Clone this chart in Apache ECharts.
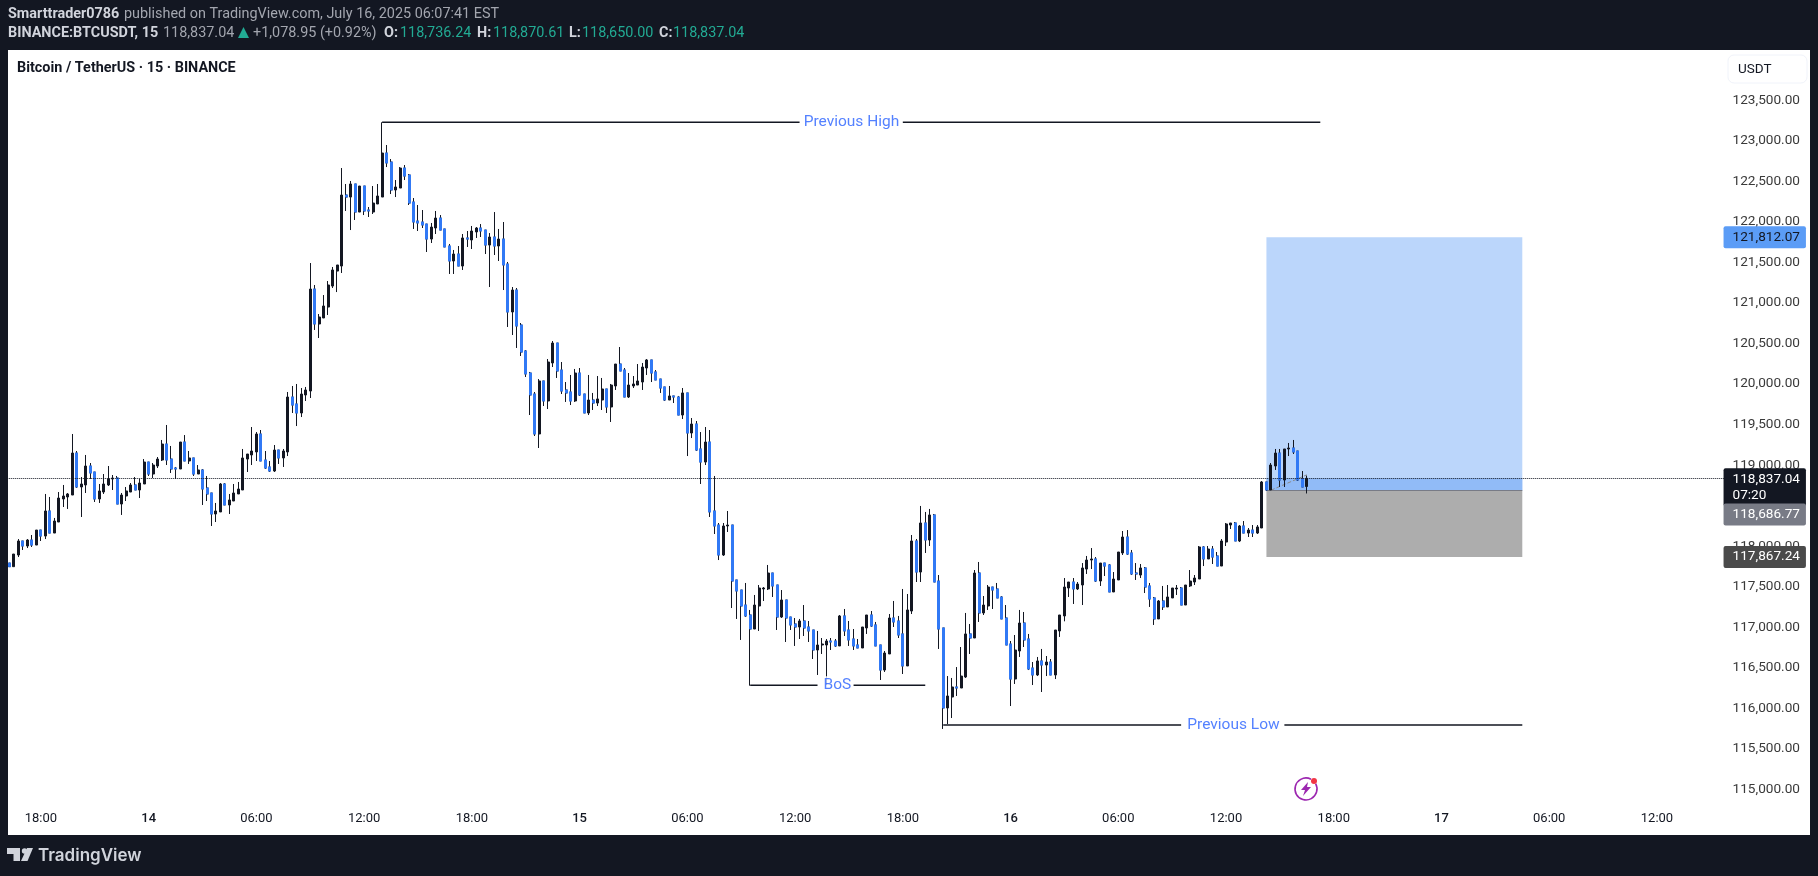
<!DOCTYPE html>
<html>
<head>
<meta charset="utf-8">
<title>BTCUSDT 15</title>
<script src="https://cdn.jsdelivr.net/npm/echarts@6/dist/echarts.min.js"></script>
<style>
  html, body { margin: 0; padding: 0; background: #131722; overflow: hidden; }
  #main-chart { width: 1818px; height: 876px; }
</style>
</head>
<body>
<div id="main-chart"></div>
<script>
// candles, 15 min bars
const candleOpen = [
  117792,117747,117891,118064,118002,118076,118014,118199,118125,118434,
  118162,118298,118582,118607,118631,119149,118730,118755,118989,118915,
  118582,118668,118755,118829,118841,118520,118619,118668,118755,118693,
  118767,119038,118890,118989,119063,119260,119075,118964,118952,119285,
  119051,119088,118890,118940,118718,118656,118397,118422,118767,118508,
  118557,118644,118693,119075,119125,119162,119384,119063,118977,118927,
  119186,119088,119162,119840,119754,119643,119865,119914,121172,120741,
  120815,120950,121209,121394,121456,122332,122307,122468,122122,122443,
  122147,122122,122221,122307,122850,122739,122394,122418,122665,122579,
  122246,122011,121999,121974,121789,121925,122048,121913,121703,121518,
  121604,121456,121802,121777,121876,121925,121900,121715,121814,121703,
  121789,121481,120889,121160,120728,120408,120136,119877,119384,120038,
  119791,120260,120506,120173,119927,119902,119791,120136,119877,119643,
  119803,119766,119803,119939,119717,119976,120247,120173,119840,119976,
  119988,120025,120198,120297,120149,120062,119964,119803,119853,119840,
  119618,119890,119396,119507,119199,119038,119285,118434,118261,117891,
  118249,118261,117583,117459,117274,117151,116978,117262,117472,117472,
  117669,117521,117126,117336,117126,117040,117003,117077,117003,116966,
  116719,116781,116781,116830,116830,116769,117139,116966,116855,116781,
  116744,116991,117151,117028,116781,116472,116670,117114,117077,116917,
  116522,117200,118064,117681,118286,118076,118385,117570,116991,116004,
  116139,116263,116250,116386,116917,116867,117669,117176,117262,117496,
  117472,117373,117114,116793,116361,116707,117052,116855,116497,116411,
  116584,116534,116571,116411,116954,117139,117484,117558,117472,117521,
  117718,117829,117842,117570,117792,117768,117435,117583,117916,118113,
  117916,117669,117644,117731,117509,117361,117102,117324,117250,117361,
  117472,117484,117274,117509,117558,117595,117990,117842,117965,117879,
  117755,118051,118261,118286,118064,118249,118162,118199,118162,118224,
  118792,118693,118989,119149,118816,119199,119211,119174,118829,118736
];
const candleHigh = [
  117792,117903,118088,118064,118088,118138,118199,118199,118644,118607,
  118348,118668,118755,118656,119384,119174,118853,119125,119026,118915,
  118767,118890,118989,118878,118866,118656,118730,118779,118853,118829,
  119075,119038,119026,119100,119310,119495,119236,118977,119285,119371,
  119174,119088,119001,118952,118866,118656,118533,118779,118779,118644,
  118767,118792,119199,119137,119470,119408,119433,119174,119051,119248,
  119186,119199,119902,119976,120001,119951,119964,121493,121222,120864,
  121098,121271,121444,121469,122665,122468,122505,122468,122443,122443,
  122184,122443,122468,123229,122949,122776,122517,122677,122702,122591,
  122295,122209,122147,121974,121987,122135,122085,121913,121728,121654,
  121703,121851,121888,121950,121937,121974,121900,121863,122122,121913,
  121999,121506,121197,121185,120753,120420,120149,119902,120062,120038,
  120309,120531,120506,120272,120025,120112,120186,120198,119877,120112,
  119890,120099,120075,119939,120001,120247,120457,120198,120136,120099,
  120247,120260,120309,120297,120173,120062,119964,119976,119853,119853,
  119951,119890,119581,119544,119408,119470,119433,118866,118286,118286,
  118434,118261,117583,117459,117546,117213,117398,117521,117496,117768,
  117669,117521,117459,117336,117126,117114,117102,117274,117077,116966,
  116954,116867,116855,116867,116855,117151,117225,117077,116978,116855,
  117003,117151,117200,117065,116781,116707,117163,117324,117139,117472,
  117410,118138,118088,118496,118422,118459,118397,117644,116991,116398,
  116374,116509,116756,117176,117040,117706,117805,117385,117521,117496,
  117546,117385,117274,116830,116904,117213,117188,116917,116571,116633,
  116732,116645,116608,116966,117151,117607,117558,117607,117558,117792,
  117879,117977,117866,117792,117792,117780,117681,117928,118187,118199,
  117953,117792,117780,117743,117546,117373,117336,117509,117521,117484,
  117521,117496,117521,117706,117644,118002,118002,118002,118002,117928,
  118088,118286,118286,118298,118261,118310,118224,118261,118261,118804,
  118792,119026,119199,119199,119199,119273,119310,119174,118927,118870
];
const candleLow = [
  117747,117747,117866,117953,117977,117990,118014,118064,118088,118162,
  118162,118298,118483,118459,118631,118718,118360,118656,118829,118545,
  118533,118644,118742,118693,118520,118385,118557,118668,118693,118594,
  118767,118866,118841,118964,119051,119001,118903,118829,118952,119051,
  119014,118866,118890,118508,118557,118249,118298,118422,118508,118397,
  118557,118644,118693,118915,119001,119051,119051,118952,118915,118915,
  119014,118977,119112,119643,119482,119593,119791,119828,120667,120568,
  120815,120852,121185,121135,121370,122135,121900,122024,122122,122085,
  122061,122098,122221,122307,122677,122344,122307,122418,122517,122209,
  121913,121888,121925,121629,121740,121851,121900,121691,121358,121358,
  121456,121407,121691,121666,121802,121814,121604,121197,121592,121518,
  121160,120704,120605,120445,120346,120087,119618,119359,119211,119729,
  119692,120210,120075,119877,119779,119741,119779,119853,119643,119618,
  119680,119729,119680,119643,119532,119927,120161,119840,119828,119951,
  119988,119927,120112,120025,120050,119890,119791,119803,119766,119618,
  119569,119112,119334,119174,118767,119001,118360,118150,117829,117879,
  118175,117237,117102,116843,117126,116279,116978,116954,117324,117459,
  117373,116966,117114,116818,116966,116769,116855,116892,116818,116608,
  116411,116670,116287,116719,116756,116769,116892,116769,116719,116744,
  116744,116917,117003,116769,116349,116448,116670,117003,116867,116423,
  116522,117163,117558,117558,117916,118002,117558,116732,115745,115806,
  115880,116152,116250,116374,116670,116867,117065,117151,117213,117225,
  117361,117102,116781,116028,116300,116633,116756,116472,116287,116398,
  116201,116398,116411,116361,116880,117073,117373,117287,117459,117274,
  117657,117718,117558,117509,117632,117435,117435,117583,117891,117891,
  117644,117583,117607,117422,117250,117028,117102,117213,117250,117361,
  117398,117274,117274,117496,117521,117595,117755,117842,117780,117755,
  117755,118002,118212,118064,118051,118162,118113,118113,118150,118224,
  118681,118693,118940,118730,118730,119112,119137,118804,118730,118650
];
const candleClose = [
  117747,117903,118064,118002,118076,118014,118199,118125,118434,118162,
  118310,118594,118619,118644,119149,118730,118767,118989,118903,118582,
  118681,118767,118829,118841,118520,118631,118681,118755,118693,118779,
  119038,118890,119001,119075,119260,119063,118952,118952,119285,119051,
  119088,118890,118940,118705,118644,118397,118434,118767,118508,118570,
  118656,118705,119088,119137,119174,119384,119051,118964,118927,119186,
  119088,119174,119840,119741,119643,119877,119927,121172,120741,120827,
  120963,121222,121407,121469,122332,122307,122468,122122,122443,122135,
  122135,122233,122320,122850,122727,122394,122431,122665,122566,122233,
  121999,121987,121962,121789,121937,122048,121900,121691,121518,121604,
  121456,121802,121789,121888,121925,121888,121715,121814,121703,121789,
  121469,120889,121160,120716,120395,120124,119865,119384,120038,119791,
  120272,120506,120161,119914,119890,119791,120136,119865,119643,119803,
  119766,119816,119939,119717,119988,120247,120161,119840,119988,120001,
  120038,120210,120297,120136,120050,119951,119803,119853,119840,119618,
  119890,119396,119507,119186,119038,119285,118422,118249,117891,118249,
  118261,117570,117447,117262,117139,116978,117274,117484,117484,117669,
  117509,117126,117336,117114,117028,117003,117077,116991,116954,116719,
  116781,116793,116830,116818,116769,117139,116954,116843,116769,116744,
  117003,117151,117015,116769,116472,116682,117114,117065,116904,116522,
  117213,118064,117681,118286,118076,118385,117558,116978,116004,116152,
  116263,116250,116398,116917,116867,117669,117176,117274,117496,117459,
  117361,117102,116781,116361,116719,117052,116843,116485,116411,116584,
  116534,116571,116411,116966,117151,117496,117558,117472,117533,117731,
  117829,117842,117570,117792,117755,117435,117595,117928,118113,117903,
  117657,117657,117731,117496,117348,117102,117324,117250,117373,117484,
  117484,117274,117521,117570,117607,117990,117842,117965,117866,117755,
  118064,118274,118286,118064,118249,118162,118199,118162,118237,118792,
  118693,119001,119149,118816,119199,119211,119162,118816,118730,118837
];

// axis
const slotCount = 383; // bars plus the empty space on the right
const firstTickBar = 7;
const barsPerTick = 24;
const timeLabels = ['18:00','14','06:00','12:00','18:00','15','06:00','12:00','18:00','16','06:00','12:00','18:00','17','06:00','12:00'];
const dayLabels = ['14','15','16','17'];
const priceTicks = [115000,115500,116000,116500,117000,117500,118000,118500,119000,119500,120000,120500,121000,121500,122000,122500,123000,123500];

// drawings: [bar, price], '-' leaves the gap for the text
const prevHigh = [[83, 123229], [176, 123229], [177, '-'], [199, 123229], [292, 123229]];
const prevHighText = [187, 123229];
const prevLow = [[208, 115794], [261, 115794], [262, '-'], [284, 115794], [337, 115794]];
const prevLowText = [272, 115794];
const bosLine = [[165, 116283], [180, 116283], [181, '-'], [188, 116283], [204, 116283]];
const bosText = [185, 116283];
const boxBars = [280, 337];
const targetPrice = 121812.07;
const entryPrice = 118686.77;
const stopPrice = 117867.24;
const lastPrice = 118837.04;
const openPnl = [[281, 118690], [289, 118880]];

const FONT = 'Roboto, sans-serif';
const HEAD = '14.4px ' + FONT;
const HEAD_BOLD = 'bold 14.4px ' + FONT;
const categories = [];
for (let i = 0; i < slotCount; i++) categories.push(String(i));

const blackBars = candleOpen.map((o, i) => [o, candleClose[i], candleLow[i], candleHigh[i]]);
// blue bodies go on top of the black wicks
const blueBodies = candleOpen.map((o, i) => {
  const c = candleClose[i];
  return c < o ? [o, c, c, o] : ['-', '-', '-', '-'];
});

const money = v => v.toLocaleString('en-US', { minimumFractionDigits: 2, maximumFractionDigits: 2 });

const txt = (x, y, text, fill, font) => ({
  type: 'text', x, y, z: 10,
  style: { text, fill, font, verticalAlign: 'middle', textVerticalAlign: 'middle' }
});

const priceTag = (price, text, bg, fg, dy) => ({
  yAxis: price,
  lineStyle: { color: 'rgba(0,0,0,0)' },
  label: {
    show: true, position: 'end', distance: 0, offset: [-3, dy],
    formatter: text, color: fg, backgroundColor: bg, align: 'left', verticalAlign: 'middle',
    padding: [3, 6, 3, 9], borderRadius: 2, fontFamily: FONT, fontSize: 13.6, lineHeight: 16
  }
});

const drawingLine = (name, data) => ({
  name, type: 'line', data, z: 2, symbol: 'none', silent: true, animation: false,
  lineStyle: { color: '#131722', width: 1.5 }
});

const drawingText = (text, point, dx) => ({
  type: 'scatter', data: [point], symbolSize: 1, z: 6, silent: true, animation: false,
  itemStyle: { color: 'rgba(0,0,0,0)' },
  label: {
    show: true, position: 'inside', offset: [dx, 0], formatter: text, color: '#2962ff',
    textBorderWidth: 0, textBorderColor: 'transparent',
    backgroundColor: '#fff', padding: [1, 2],
    fontFamily: FONT, fontSize: 15.5
  }
});

const option = {
  backgroundColor: '#131722',
  animation: false,
  grid: { left: 7.25, top: 50, width: 1719.3, height: 755 },
  xAxis: {
    type: 'category',
    data: categories,
    axisLine: { show: false },
    axisTick: { show: false },
    splitLine: { show: false },
    axisLabel: {
      margin: 7,
      hideOverlap: false,
      interval: i => i >= firstTickBar && (i - firstTickBar) % barsPerTick === 0,
      formatter: (v, i) => {
        const label = timeLabels[(i - firstTickBar) / barsPerTick];
        return dayLabels.includes(label) ? '{day|' + label + '}' : label;
      },
      color: '#131722',
      fontFamily: FONT,
      fontSize: 13,
      rich: { day: { fontWeight: 500, fontFamily: FONT, fontSize: 13, color: '#131722' } }
    }
  },
  yAxis: {
    type: 'value',
    position: 'right',
    min: 114807,
    max: 124121,
    axisLine: { show: false },
    axisTick: { show: false },
    splitLine: { show: false },
    axisLabel: {
      customValues: priceTicks,
      margin: 6,
      formatter: v => money(v),
      color: '#3a3a3a',
      fontFamily: FONT,
      fontSize: 13.6
    }
  },
  graphic: [
    { type: 'rect', z: -1, shape: { x: 8, y: 50, width: 1802, height: 785 }, style: { fill: '#fff' } },
    txt(8, 14, 'Smarttrader0786', '#d1d4dc', HEAD_BOLD),
    txt(124, 14, 'published on TradingView.com, July 16, 2025 06:07:41 EST', '#a3a6af', HEAD),
    txt(8, 33, 'BINANCE:BTCUSDT, 15', '#d1d4dc', HEAD_BOLD),
    txt(163, 33, '118,837.04', '#a3a6af', HEAD),
    { type: 'polygon', z: 10, shape: { points: [[238, 38], [249, 38], [243.5, 27]] }, style: { fill: '#22ab94' } },
    txt(253, 33, '+1,078.95 (+0.92%)', '#a3a6af', HEAD),
    txt(384, 33, 'O:', '#d1d4dc', HEAD_BOLD),
    txt(400, 33, '118,736.24', '#22ab94', HEAD),
    txt(477, 33, 'H:', '#d1d4dc', HEAD_BOLD),
    txt(493, 33, '118,870.61', '#22ab94', HEAD),
    txt(569, 33, 'L:', '#d1d4dc', HEAD_BOLD),
    txt(582, 33, '118,650.00', '#22ab94', HEAD),
    txt(659, 33, 'C:', '#d1d4dc', HEAD_BOLD),
    txt(673, 33, '118,837.04', '#22ab94', HEAD),
    txt(17, 68, 'Bitcoin / TetherUS · 15 · BINANCE', '#131722', 'bold 14.4px ' + FONT),
    // currency button
    { type: 'rect', z: 10, shape: { x: 1728, y: 55, width: 79, height: 28, r: 6 }, style: { fill: '#fff', stroke: '#f0f3fa', lineWidth: 1 } },
    txt(1738, 69.5, 'USDT', '#131722', '13.5px ' + FONT),
    // lightning icon
    { type: 'arc', z: 10, shape: { cx: 1306, cy: 789, r: 11, startAngle: -0.5, endAngle: -1.1 }, style: { fill: 'none', stroke: '#9c27b0', lineWidth: 1.6 } },
    { type: 'polygon', z: 10, shape: { points: [[1308, 782], [1301, 790], [1305, 790], [1303, 796], [1311, 787], [1307, 787]] }, style: { fill: '#9c27b0' } },
    { type: 'circle', z: 11, shape: { cx: 1314, cy: 781, r: 3 }, style: { fill: '#f23645' } },
    // logo
    { type: 'polygon', z: 10, shape: { points: [[7, 848], [20, 848], [20, 861], [13.5, 861], [13.5, 854], [7, 854]] }, style: { fill: '#d1d4dc' } },
    { type: 'circle', z: 10, shape: { cx: 24.5, cy: 851, r: 2.7 }, style: { fill: '#d1d4dc' } },
    { type: 'polygon', z: 10, shape: { points: [[27, 848], [33, 848], [27.5, 861], [21, 861]] }, style: { fill: '#d1d4dc' } },
    txt(38, 856, 'TradingView', '#d1d4dc', '600 17px Inter, ' + FONT)
  ],
  series: [
    {
      // long position box, sits under the candles
      name: 'position',
      type: 'line',
      data: [[boxBars[0], entryPrice], [boxBars[1], entryPrice]],
      z: 1,
      symbol: 'none',
      silent: true,
      lineStyle: { color: '#787b86', width: 1 },
      markArea: {
        silent: true,
        data: [
          [{ xAxis: boxBars[0], yAxis: targetPrice, itemStyle: { color: '#bbd6fb' } }, { xAxis: boxBars[1], yAxis: entryPrice }],
          [{ xAxis: boxBars[0], yAxis: lastPrice, itemStyle: { color: '#91bbf7' } }, { xAxis: boxBars[1], yAxis: entryPrice }],
          [{ xAxis: boxBars[0], yAxis: entryPrice, itemStyle: { color: '#adadad' } }, { xAxis: boxBars[1], yAxis: stopPrice }]
        ]
      }
    },
    {
      name: 'open pnl',
      type: 'line',
      data: openPnl,
      z: 2,
      symbol: 'none',
      silent: true,
      lineStyle: { color: '#8a8a8a', width: 1, type: 'dashed' }
    },
    drawingLine('previous high', prevHigh),
    drawingLine('previous low', prevLow),
    drawingLine('bos', bosLine),
    {
      name: 'candles',
      type: 'candlestick',
      data: blackBars,
      z: 3,
      barWidth: 2.5,
      silent: true,
      itemStyle: { color: '#131722', color0: '#131722', borderColor: '#131722', borderColor0: '#131722', borderWidth: 1 },
      markLine: {
        silent: true,
        symbol: 'none',
        animation: false,
        data: [{ yAxis: lastPrice, label: { show: false }, lineStyle: { color: '#131722', width: 1, type: 'dotted' } }]
      }
    },
    {
      name: 'blue bodies',
      type: 'candlestick',
      data: blueBodies,
      z: 4,
      barWidth: 2.5,
      silent: true,
      itemStyle: { color: '#3179f5', color0: '#3179f5', borderColor: '#3179f5', borderColor0: '#3179f5', borderWidth: 1 },
      markLine: {
        silent: true,
        symbol: 'none',
        animation: false,
        label: { show: true },
        data: [
          priceTag(targetPrice, money(targetPrice), '#5b9cf6', '#131722', 0),
          priceTag(lastPrice, money(lastPrice) + '\n07:20', '#131722', '#fff', 9),
          priceTag(entryPrice, money(entryPrice), '#787b86', '#fff', 24),
          priceTag(stopPrice, money(stopPrice), '#4a4a4a', '#fff', 0)
        ]
      }
    },
    drawingText('Previous High', prevHighText, 2.5),
    drawingText('Previous Low', prevLowText, 3),
    drawingText('BoS', bosText, -2.5)
  ]
};

const chart = echarts.init(document.getElementById('main-chart'), null, { renderer: 'canvas' });
chart.setOption(option);
</script>
</body>
</html>
